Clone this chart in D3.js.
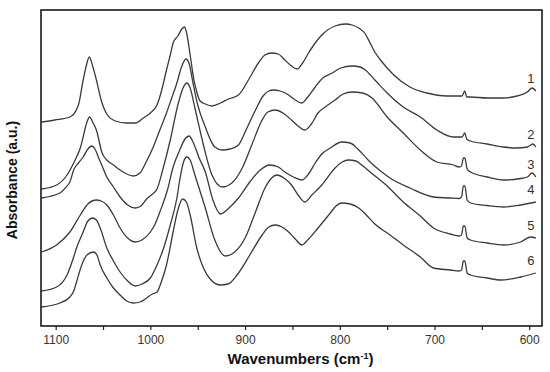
<!DOCTYPE html>
<html>
<head>
<meta charset="utf-8">
<script src="https://cdn.jsdelivr.net/npm/d3@7"></script>
<style>
  body { margin: 0; background: #fff; }
  svg { display: block; font-family: Arial, "Liberation Sans", sans-serif; }
</style>
</head>
<body>
<div id="chart"></div>
<script>
// FTIR spectra, [wavenumber (cm-1), absorbance (a.u.)]
var spectrum1 = [[1115,2.04],[1101,2.06],[1085,2.09],[1076,2.21],[1071,2.46],[1068,2.59],[1064.5,2.69],[1061,2.60],[1057,2.46],[1052,2.26],[1046,2.12],[1037,2.05],[1025,2.03],[1016,2.03],[1007.5,2.08],[1000,2.13],[993,2.21],[988,2.36],[983,2.56],[979,2.71],[976,2.83],[971,2.90],[966.8,2.97],[964,2.99],[962,2.94],[958,2.71],[954.6,2.49],[951,2.34],[947.5,2.25],[942,2.22],[935,2.20],[926,2.23],[917.6,2.27],[907,2.31],[896.5,2.46],[886,2.63],[879,2.71],[872,2.73],[865,2.72],[858,2.66],[851,2.60],[845,2.57],[840,2.62],[833,2.73],[826,2.83],[819,2.91],[805,3.00],[794,3.02],[787,3.01],[780,2.98],[773,2.92],[768,2.83],[763,2.74],[757,2.66],[743,2.51],[726,2.39],[708,2.33],[687,2.30],[673,2.30],[671,2.30],[668,2.35],[666,2.29],[662,2.29],[644.5,2.28],[627,2.28],[613,2.30],[602,2.34],[597,2.38],[593,2.35]];
var spectrum2 = [[1115,1.37],[1099,1.41],[1088,1.51],[1081,1.63],[1078,1.69],[1074,1.78],[1071,1.89],[1067,2.04],[1064,2.09],[1061,2.04],[1057,1.96],[1051,1.73],[1046,1.66],[1039,1.61],[1032,1.56],[1025,1.52],[1018,1.50],[1011,1.53],[1005,1.63],[997,1.79],[990,1.96],[983,2.13],[977.5,2.28],[972,2.43],[967.5,2.58],[962.5,2.67],[959,2.62],[955,2.43],[950,2.21],[942,1.99],[937,1.87],[932,1.79],[924,1.76],[916,1.77],[907,1.81],[899,1.96],[889,2.16],[881,2.30],[875,2.35],[870,2.36],[863,2.35],[854,2.31],[847,2.26],[840,2.23],[833,2.30],[826,2.39],[818,2.48],[808,2.53],[799,2.58],[787,2.60],[778.5,2.59],[773,2.56],[763,2.46],[750,2.33],[733,2.19],[715,2.09],[697.5,1.96],[680,1.89],[671,1.89],[668,1.93],[666,1.87],[662,1.85],[644.5,1.82],[627,1.79],[613,1.78],[602,1.79],[596,1.82],[593,1.79]];
var spectrum3 = [[1115,1.28],[1095.5,1.33],[1089,1.39],[1085,1.44],[1081,1.56],[1076,1.63],[1071,1.69],[1066,1.77],[1062,1.80],[1058.5,1.77],[1055,1.69],[1050.5,1.59],[1046,1.49],[1039,1.39],[1032,1.29],[1024,1.21],[1016,1.18],[1010,1.20],[1004,1.27],[999,1.31],[993,1.37],[987,1.56],[979,1.86],[971,2.21],[965.5,2.38],[961.6,2.43],[958,2.38],[953,2.18],[944,1.81],[935,1.51],[924,1.39],[914,1.43],[903,1.58],[893,1.81],[882,2.06],[876,2.14],[868,2.16],[860,2.13],[851,2.06],[844,2.00],[837,1.96],[830,2.02],[823,2.13],[814,2.20],[805,2.26],[796.5,2.32],[787,2.34],[776,2.33],[766,2.28],[750,2.09],[733,1.93],[715,1.76],[697.5,1.64],[680,1.61],[674,1.59],[671.5,1.60],[669.5,1.68],[668,1.68],[665.5,1.57],[662,1.54],[644.5,1.49],[627,1.46],[609,1.475],[602,1.49],[597,1.53],[593,1.49]];
var spectrum4 = [[1115,0.74],[1099,0.81],[1085,0.94],[1074,1.11],[1066,1.22],[1057,1.26],[1052,1.25],[1046,1.21],[1039,1.11],[1032,0.98],[1024,0.88],[1016,0.84],[1009,0.86],[1000,0.94],[995,1.02],[990,1.14],[982,1.36],[976,1.59],[969,1.76],[963.5,1.87],[959,1.90],[955,1.84],[948.5,1.68],[942,1.54],[934,1.26],[926,1.12],[917,1.18],[907,1.28],[895,1.44],[884,1.56],[874,1.61],[865,1.59],[858,1.54],[849,1.49],[840,1.46],[833,1.52],[826,1.63],[819,1.72],[810,1.78],[798,1.84],[789,1.83],[781,1.77],[768,1.64],[757,1.55],[747,1.48],[726,1.38],[701,1.29],[683.5,1.28],[674,1.275],[671.5,1.29],[669.5,1.40],[668,1.40],[665.5,1.26],[662,1.23],[644.5,1.205],[627,1.19],[609,1.21],[593,1.24]];
var spectrum5 = [[1115,0.35],[1099,0.39],[1088,0.51],[1081,0.69],[1078,0.78],[1071,0.94],[1066,1.05],[1061,1.08],[1057,1.06],[1053,0.98],[1046,0.78],[1039,0.65],[1032,0.54],[1024,0.45],[1016,0.40],[1009,0.42],[1000,0.48],[993,0.61],[986,0.78],[979,1.01],[972,1.28],[969,1.46],[965,1.64],[961.6,1.69],[958,1.66],[953,1.51],[942,1.18],[932,0.86],[921,0.70],[911,0.74],[900,0.88],[889,1.14],[879,1.38],[872,1.48],[866.5,1.51],[859,1.48],[851,1.41],[844,1.31],[837,1.24],[829.5,1.31],[819,1.41],[805,1.58],[797.5,1.64],[791,1.66],[783,1.65],[775.5,1.60],[768,1.54],[750,1.40],[733,1.24],[715,1.10],[701,0.98],[683.5,0.92],[674,0.90],[671.5,0.91],[669.5,1.00],[668,1.00],[665.5,0.88],[662,0.86],[644.5,0.83],[627,0.81],[609,0.84],[598.7,0.89],[593,0.88]];
var spectrum6 = [[1115,0.19],[1095.5,0.23],[1085,0.29],[1080.5,0.36],[1078,0.44],[1072.5,0.61],[1067,0.71],[1060,0.74],[1056,0.70],[1053,0.61],[1046,0.48],[1039,0.38],[1032,0.31],[1025,0.25],[1018,0.23],[1011,0.24],[1004,0.28],[998,0.32],[993,0.34],[988.5,0.44],[983,0.61],[976,0.94],[971,1.16],[966,1.27],[962,1.24],[958,1.11],[951,0.78],[944,0.58],[936,0.46],[926,0.41],[918,0.42],[908.5,0.51],[895,0.71],[882,0.91],[875,0.99],[868,1.01],[861,0.99],[854,0.94],[847,0.87],[840,0.81],[833,0.87],[823,0.98],[810,1.13],[804,1.20],[798,1.23],[789,1.22],[780,1.18],[772,1.11],[763,1.02],[747,0.91],[733,0.81],[715,0.69],[701,0.58],[683.5,0.56],[674,0.55],[671.5,0.56],[669.5,0.65],[668,0.65],[665.5,0.53],[662,0.51],[644.5,0.48],[630,0.46],[609,0.49],[593,0.53]];

var spectra = [spectrum1, spectrum2, spectrum3, spectrum4, spectrum5, spectrum6];
var seriesNames = ["1", "2", "3", "4", "5", "6"];
var majorTicks = [1100, 1000, 900, 800, 700, 600];
var minorTicks = [1050, 950, 850, 750, 650];

var svgWidth = 550;
var svgHeight = 372;

var margin = { top: 10, right: 8, bottom: 46, left: 41 };
var chartWidth = svgWidth - margin.left - margin.right;
var chartHeight = svgHeight - margin.top - margin.bottom;

var svg = d3.select("#chart")
    .append("svg")
    .attr("width", svgWidth)
    .attr("height", svgHeight);

var chartGroup = svg.append("g")
    .attr("transform", `translate(${margin.left}, ${margin.top})`);

// wavenumbers run right to left
var xScale = d3.scaleLinear()
    .domain([1115.5, 586.5])
    .range([0, chartWidth]);

var yScale = d3.scaleLinear()
    .domain([0, 3.16])
    .range([chartHeight, 0]);

var line = d3.line()
    .x(d => xScale(d[0]))
    .y(d => yScale(d[1]))
    .curve(d3.curveMonotoneX);

// spectra
chartGroup.selectAll(".spectrum")
    .data(spectra)
    .enter().append("path")
    .attr("class", "spectrum")
    .attr("fill", "none")
    .attr("stroke", "#3a3a3a")
    .attr("stroke-width", 1.3)
    .attr("d", line);

// curve numbers, a little above where each curve ends
chartGroup.selectAll(".num")
    .data(spectra)
    .enter().append("text")
    .attr("class", "num")
    .attr("x", d => xScale(d[d.length - 1][0]) - 5)
    .attr("y", d => yScale(d[d.length - 1][1]) - 13)
    .attr("dy", "0.35em")
    .attr("text-anchor", "middle")
    .attr("font-size", "13px")
    .attr("fill", "#333")
    .text((d, i) => seriesNames[i]);

// x axis
var bottomAxis = d3.axisBottom(xScale)
    .tickValues(majorTicks)
    .tickSize(4)
    .tickPadding(5)
    .tickFormat(d3.format("d"));

var xAxis = chartGroup.append("g")
    .attr("transform", `translate(0,${chartHeight})`)
    .call(bottomAxis);
xAxis.select(".domain").remove();
xAxis.selectAll("line").attr("stroke", "#222").attr("stroke-width", 1.2);
xAxis.selectAll("text")
    .attr("font-size", "12px")
    .attr("font-family", "Arial, 'Liberation Sans', sans-serif")
    .attr("fill", "#333");

var minorAxis = chartGroup.append("g")
    .attr("transform", `translate(0,${chartHeight})`)
    .call(d3.axisBottom(xScale).tickValues(minorTicks).tickSize(4).tickFormat(""));
minorAxis.select(".domain").remove();
minorAxis.selectAll("line").attr("stroke", "#222").attr("stroke-width", 1.2);

// frame
chartGroup.append("rect")
    .attr("x", 0)
    .attr("y", 0)
    .attr("width", chartWidth)
    .attr("height", chartHeight)
    .attr("fill", "none")
    .attr("stroke", "#1a1a1a")
    .attr("stroke-width", 1.6);

// axis titles
var xTitle = svg.append("text")
    .attr("x", margin.left + chartWidth / 2 + 9)
    .attr("y", 364)
    .attr("text-anchor", "middle")
    .attr("font-size", "15px")
    .attr("font-weight", "bold")
    .attr("fill", "#111");
xTitle.append("tspan").text("Wavenumbers (cm");
xTitle.append("tspan").attr("dy", -5).attr("font-size", "9px").text("-1");
xTitle.append("tspan").attr("dy", 5).text(")");

svg.append("text")
    .attr("transform", `translate(17, ${margin.top + chartHeight / 2 + 12}) rotate(-90)`)
    .attr("text-anchor", "middle")
    .attr("font-size", "14px")
    .attr("font-weight", "bold")
    .attr("fill", "#111")
    .text("Absorbance (a.u.)");
</script>
</body>
</html>
